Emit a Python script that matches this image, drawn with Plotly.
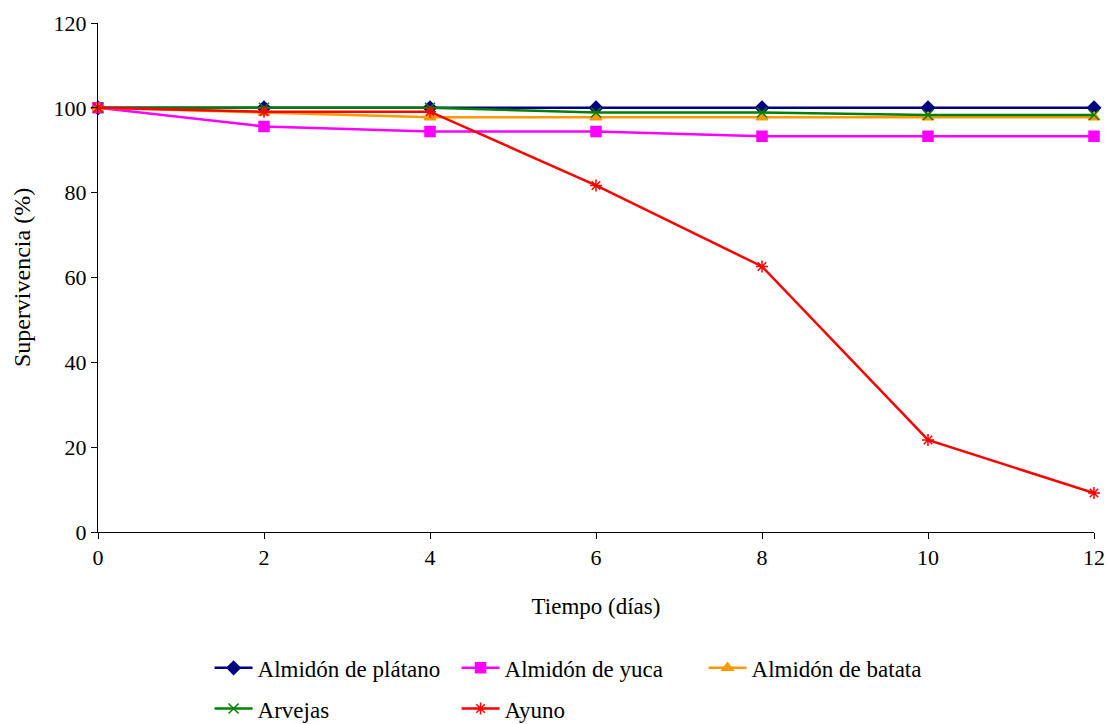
import plotly.graph_objects as go

dias = [0, 2, 4, 6, 8, 10, 12]
platano = [100, 100, 100, 100, 100, 100, 100]
yuca = [100, 95.6, 94.4, 94.4, 93.3, 93.3, 93.3]
batata = [100, 98.9, 97.8, 97.8, 97.8, 97.8, 97.8]
arvejas = [100, 100, 100, 98.9, 98.9, 98.3, 98.3]
ayuno = [100, 99.1, 99.1, 81.7, 62.6, 21.7, 9.2]

series = [
    ("Almidón de plátano", platano, "#000080", "diamond", 10, "legend"),
    ("Almidón de yuca", yuca, "#FF00FF", "square", 10, "legend"),
    ("Almidón de batata", batata, "#FF9900", "triangle-up", 10, "legend"),
    ("Arvejas", arvejas, "#008000", "x-thin-open", 10, "legend2"),
    ("Ayuno", ayuno, "#FF0000", "asterisk-open", 10, "legend2"),
]

fig = go.Figure()
for name, vals, color, sym, size, leg in series:
    fig.add_trace(go.Scatter(
        x=dias, y=vals, name=name, mode="lines+markers",
        line=dict(color=color, width=2.5),
        marker=dict(symbol=sym, size=size, color=color,
                    line=dict(color=color, width=1.5)),
        cliponaxis=False, legend=leg,
    ))

font = "Liberation Serif, Times New Roman, serif"
FS = 22
legend_common = dict(orientation="h", xanchor="left", yanchor="middle",
                     entrywidth=194, entrywidthmode="pixels",
                     font=dict(family=font, size=23, color="black"),
                     itemwidth=38, bgcolor="rgba(0,0,0,0)")
fig.update_layout(
    width=1108, height=724,
    margin=dict(l=98, r=14, t=23, b=192, autoexpand=False),
    paper_bgcolor="white", plot_bgcolor="white",
    font=dict(family=font, size=FS, color="black"),
    showlegend=True,
    legend=dict(x=0.112, y=-0.267, **legend_common),
    legend2=dict(x=0.112, y=-0.347, **legend_common),
)
fig.update_xaxes(
    range=[0, 12], dtick=2, tick0=0, showgrid=False, zeroline=False,
    showline=True, linecolor="black", linewidth=1,
    ticks="outside", ticklen=6, tickcolor="black",
    title=dict(text="Tiempo (días)", font=dict(family=font, size=23), standoff=28),
)
fig.update_yaxes(
    range=[0, 120], dtick=20, tick0=0, showgrid=False, zeroline=False,
    showline=True, linecolor="black", linewidth=1,
    ticks="outside", ticklen=6, tickcolor="black",
    title=dict(text="Supervivencia (%)", font=dict(family=font, size=24), standoff=16),
)

fig.write_html("out.html", config={"displayModeBar": False},
               post_script="document.body.style.margin='0';")
